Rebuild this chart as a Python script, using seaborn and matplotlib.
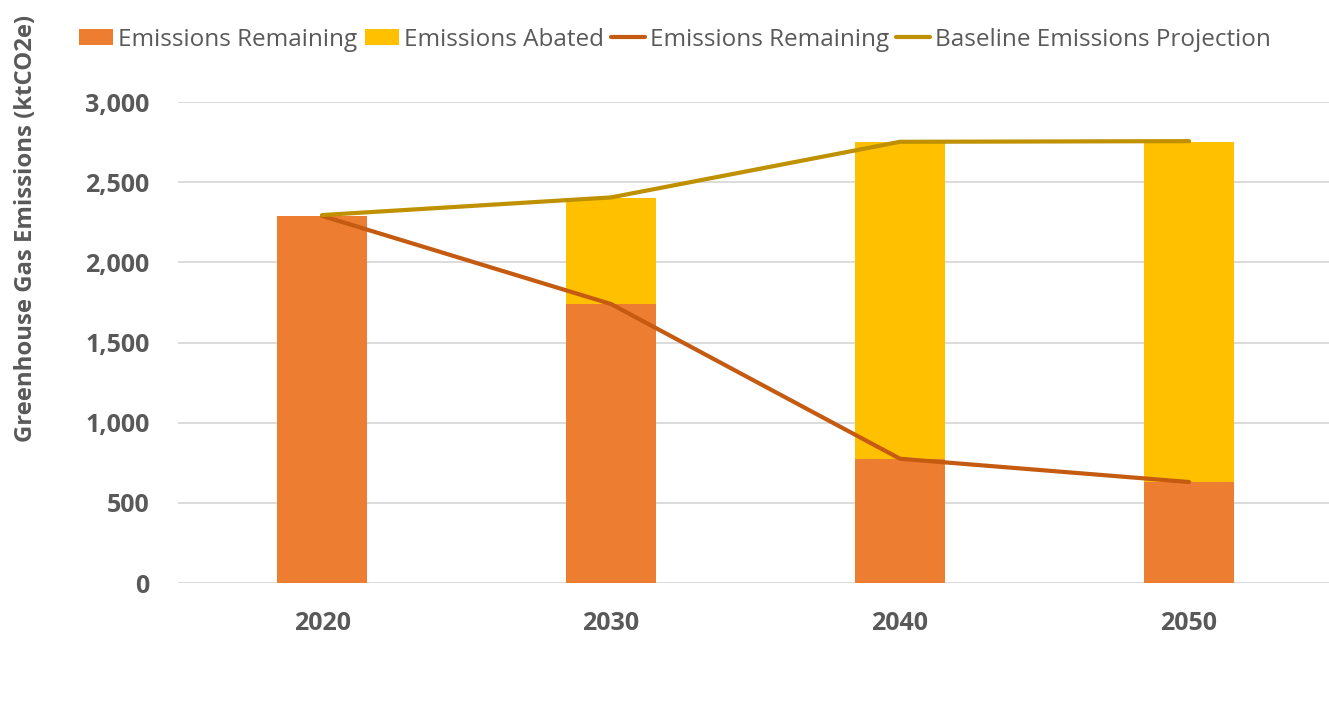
import numpy as np
import pandas as pd
import matplotlib
matplotlib.use("Agg")
import matplotlib.pyplot as plt
from matplotlib.patches import Patch
from matplotlib.lines import Line2D
import seaborn as sns

years = ["2020", "2030", "2040", "2050"]
emissions_remaining = [2290, 1740, 775, 630]
emissions_abated = [0, 662, 1976, 2121]
baseline_projection = [2295, 2405, 2752, 2756]

sns.set_theme(style="white")
plt.rcParams["font.family"] = ["Open Sans", "DejaVu Sans"]

gray = "#595959"
c_remaining = "#ED7D31"
c_abated = "#FFC000"
c_line_remaining = "#C55A11"
c_baseline = "#BF9000"

df = pd.DataFrame({
    "year": years,
    "remaining": emissions_remaining,
    "abated": emissions_abated,
})
df["total"] = df["remaining"] + df["abated"]
pos = np.arange(len(years))

fig = plt.figure(figsize=(13.29, 7.11), dpi=100)
ax = fig.add_axes([0.1336, 0.18, 0.8698, 0.6765])

sns.barplot(data=df, x="year", y="total", order=years, color=c_abated,
            width=0.31, saturation=1, linewidth=0, ax=ax, zorder=2)
sns.barplot(data=df, x="year", y="remaining", order=years, color=c_remaining,
            width=0.31, saturation=1, linewidth=0, ax=ax, zorder=3)
sns.lineplot(x=pos, y=emissions_remaining, color=c_line_remaining, lw=3,
             ax=ax, zorder=4)
sns.lineplot(x=pos, y=baseline_projection, color=c_baseline, lw=3,
             ax=ax, zorder=4)

ax.set_xlim(-0.5, 3.5)
ax.set_ylim(0, 3000)
ax.set_yticks(np.arange(0, 3001, 500))
ax.set_yticklabels([f"{v:,}" for v in range(0, 3001, 500)])
ax.yaxis.grid(True, color="#D9D9D9", lw=1.3, zorder=0)
ax.set_axisbelow(True)
for s in ax.spines.values():
    s.set_visible(False)
ax.tick_params(axis="both", length=0, labelsize=18, labelcolor=gray)
ax.tick_params(axis="y", pad=20)
ax.tick_params(axis="x", pad=20)
for lab in ax.get_xticklabels() + ax.get_yticklabels():
    lab.set_fontweight("bold")

ax.set_xlabel("")
ax.set_ylabel("Greenhouse Gas Emissions (ktCO2e)", fontsize=17.2,
              fontweight="bold", color=gray)
ax.yaxis.set_label_coords(-0.121, 0.737)

handles = [
    Patch(facecolor=c_remaining, edgecolor="none"),
    Patch(facecolor=c_abated, edgecolor="none"),
    Line2D([0], [0], color=c_line_remaining, lw=3),
    Line2D([0], [0], color=c_baseline, lw=3),
]
labels = ["Emissions Remaining", "Emissions Abated", "Emissions Remaining",
          "Baseline Emissions Projection"]
leg = fig.legend(handles, labels, loc="center", bbox_to_anchor=(0.508, 0.944),
                 ncol=4, frameon=False, fontsize=17.5, handlelength=1.4,
                 handleheight=0.66, handletextpad=0.2, columnspacing=0.3,
                 borderaxespad=0)
for t in leg.get_texts():
    t.set_color(gray)

fig.savefig("out.png", dpi=100, facecolor="white")
